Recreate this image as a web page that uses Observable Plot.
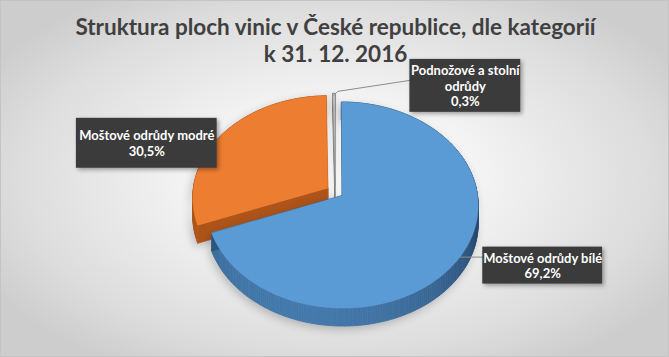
<!DOCTYPE html>
<html>
<head>
<meta charset="utf-8">
<script src="https://cdn.jsdelivr.net/npm/d3@7"></script>
<script src="https://cdn.jsdelivr.net/npm/@observablehq/plot@0.6"></script>
<style>
  html, body { margin: 0; padding: 0; }
  #chart {
    position: relative; width: 669px; height: 357px; overflow: hidden;
    box-sizing: border-box; border: 1px solid #c4c4c4;
    background: radial-gradient(ellipse 60% 62% at 50% 50%, #ffffff 0%, #f4f4f4 35%, #dcdcdc 80%, #cdcdcd 100%);
    font-family: Lato, "Open Sans", sans-serif;
  }
  #title {
    position: absolute; left: 0; top: 12px; width: 669px; text-align: center;
    font-weight: bold; font-size: 22.5px; line-height: 27px; color: #404040;
    pointer-events: none; z-index: 2;
  }
  #plot { position: absolute; left: -1px; top: -1px; }
</style>
</head>
<body>
<div id="chart">
  <div id="title">Struktura ploch vinic v České republice, dle kategorií<br>k 31. 12. 2016</div>
  <div id="plot"></div>
</div>
<script>
// ---- data ----
const categories = ["Moštové odrůdy bílé", "Moštové odrůdy modré", "Podnožové a stolní odrůdy"];
const shares = [69.2, 30.5, 0.3];
const valueLabels = ["69,2%", "30,5%", "0,3%"];
const labelTexts = ["Moštové odrůdy bílé", "Moštové odrůdy modré", "Podnožové a stolní\nodrůdy"];
const topColors = ["#5B9BD5", "#ED7D31", "#C9C9C9"];
const sideLight = ["#4479AC", "#B95E20", "#9A9A9A"];
const sideDark = ["#284B70", "#9A4A16", "#6E6E6E"];

// ---- layout ----
const W = 669, H = 357;
const cx = 335, cy = 191.5, rx = 135, ry = 101.6, persp = 0.0927, depth = 18, explode = 0.065;
// label boxes (left, top, right, bottom)
const labelBoxes = [[483, 247, 603, 284], [76, 118, 217, 168], [410, 59, 521, 112]];

const proj = (u, v) => [cx + rx * u / (1 - persp * v), cy + ry * v / (1 - persp * v)];

const arcs = d3.pie().sort(null).value(d => d)(shares);

const topPolys = [];
const sidePolys = [];
const rims = [];
let pid = 0;

arcs.forEach((a, i) => {
  const mid = (a.startAngle + a.endAngle) / 2;
  const ou = explode * Math.sin(mid), ov = -explode * Math.cos(mid);
  const n = Math.max(2, Math.ceil((a.endAngle - a.startAngle) / (Math.PI / 180)));
  const pts = [{p: proj(ou, ov), ang: null}];
  for (let j = 0; j <= n; j++) {
    const ang = a.startAngle + (a.endAngle - a.startAngle) * j / n;
    pts.push({p: proj(ou + Math.sin(ang), ov - Math.cos(ang)), ang});
  }
  rims.push(pts.slice(1));
  const shade = d3.interpolateRgb(sideDark[i], sideLight[i]);
  const sides = [];
  for (let j = 0; j < pts.length; j++) {
    const A = pts[j], B = pts[(j + 1) % pts.length];
    let color;
    if (A.ang !== null && B.ang !== null) {
      const am = (A.ang + B.ang) / 2;
      const t = Math.max(0, -Math.cos(am - 0.35));
      color = shade(Math.pow(t, 0.8));
    } else {
      color = d3.color(sideDark[i]).brighter(0.35).formatHex();
    }
    const id = "s" + (pid++);
    [[A.p[0], A.p[1]], [B.p[0], B.p[1]], [B.p[0], B.p[1] + depth], [A.p[0], A.p[1] + depth]]
      .forEach(([x, y]) => sides.push({id, x, y, fill: color, slice: i}));
  }
  sidePolys.push(sides);
  const tid = "t" + i;
  topPolys.push(pts.map(q => ({id: tid, x: q.p[0], y: q.p[1], fill: topColors[i], slice: i})));
});

// draw order: back slices first
const order = [2, 1, 0];
const marks = [];
order.forEach(i => {
  marks.push(Plot.line(sidePolys[i], {x: "x", y: "y", z: "id", fill: "fill", stroke: "fill", strokeWidth: 0.8, curve: "linear-closed"}));
  marks.push(Plot.line(topPolys[i], {x: "x", y: "y", z: "id", fill: "fill", stroke: i === 2 ? "#8a8a8a" : "fill", strokeWidth: i === 2 ? 0.7 : 0.5, curve: "linear-closed"}));
});

// leader lines
const gRim = rims[2][Math.floor(rims[2].length / 2)].p;
const bY = labelBoxes[0][1] + 10;
const bRim = rims[0].filter(q => q.p[0] > cx).reduce((best, q) =>
  Math.abs(q.p[1] - bY) < Math.abs(best.p[1] - bY) ? q : best).p;
const leaders = [
  {id: 0, x: bRim[0], y: bY},
  {id: 0, x: labelBoxes[0][0], y: bY},
  {id: 2, x: gRim[0], y: gRim[1] + 2},
  {id: 2, x: gRim[0] + 4, y: gRim[1] - 2},
  {id: 2, x: labelBoxes[2][0], y: labelBoxes[2][1] + 21}
];
marks.push(Plot.line(leaders, {x: "x", y: "y", z: "id", stroke: "#8c8c8c", strokeWidth: 1}));

// label boxes and text
const boxes = labelBoxes.map((b, i) => ({x1: b[0], y1: b[1], x2: b[2], y2: b[3], i}));
marks.push(Plot.rect(boxes, {x1: "x1", x2: "x2", y1: "y1", y2: "y2", fill: "#3b3b3b"}));
const texts = boxes.map(b => ({
  x: (b.x1 + b.x2) / 2, y: (b.y1 + b.y2) / 2,
  text: labelTexts[b.i] + "\n" + valueLabels[b.i]
}));
marks.push(Plot.text(texts, {x: "x", y: "y", text: "text", fill: "white", fontWeight: "bold", fontSize: 13, lineHeight: 1.2, fontFamily: "Lato, 'Open Sans', sans-serif"}));

const chart = Plot.plot({
  width: W, height: H,
  margin: 0,
  x: {domain: [0, W], range: [0, W], axis: null},
  y: {domain: [0, H], range: [0, H], axis: null},
  color: {type: "identity"},
  style: {background: "transparent", overflow: "visible"},
  marks
});
document.getElementById("plot").appendChild(chart);
d3.select(chart).selectAll("g[aria-label='rect'] rect").style("filter", "drop-shadow(2px 2px 2px rgba(0,0,0,0.35))");
d3.select(chart).selectAll("g[aria-label='line']").filter((d, k) => k < 6 && k % 2 === 0)
  .style("filter", "drop-shadow(-2px 3px 4px rgba(0,0,0,0.22))");
</script>
</body>
</html>
